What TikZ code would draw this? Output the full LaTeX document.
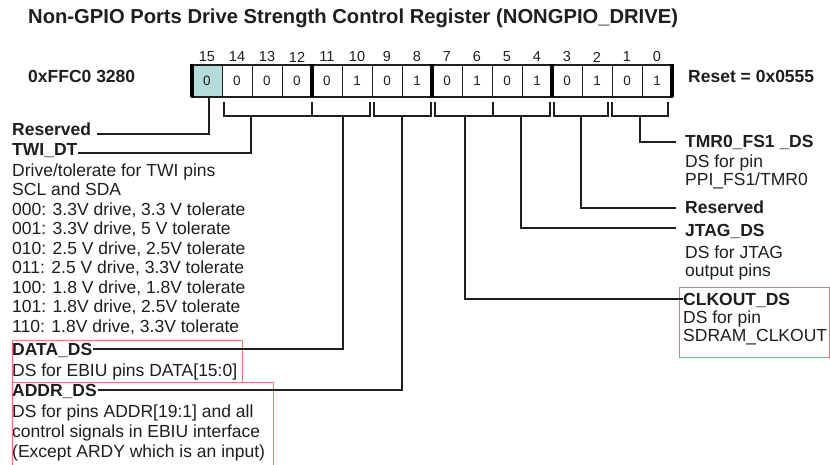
\documentclass[tikz,border=0pt]{standalone}
\usepackage{fontspec}
\setmainfont{Liberation Sans}
\definecolor{tealfill}{HTML}{B4DCDB}
\definecolor{boxred}{HTML}{E57A7A}
\definecolor{ink}{HTML}{1E1E1E}
\begin{document}
\begin{tikzpicture}[x=1pt,y=-1pt,
  lbl/.style={anchor=west,inner sep=0pt,text height=12.5pt,text depth=0pt,text=ink,font=\fontsize{17.5}{19.5}\selectfont},
  blbl/.style={lbl,font=\bfseries\fontsize{17.5}{19.5}\selectfont},
  cell/.style={draw=ink,line width=0.8pt,minimum width=30pt,minimum height=32pt,inner sep=0pt,text=ink,font=\fontsize{13.5}{14}\selectfont},
  bitno/.style={inner sep=0pt,text=ink,font=\fontsize{14.5}{15}\selectfont},
  conn/.style={line width=1.1pt,draw=ink},
  brk/.style={line width=1.1pt,draw=ink},
  redbox/.style={draw=boxred,line width=0.9pt},
  thickbar/.style={line width=3.5pt,draw=black}
]
\useasboundingbox[fill=white] (0,0) rectangle (830,465);

% title
\node[anchor=west,inner sep=0pt,text height=14.5pt,text depth=0pt,text=ink,
      font=\bfseries\fontsize{20.2}{22}\selectfont] (title) at (28,16)
      {Non-GPIO Ports Drive Strength Control Register (NONGPIO\_DRIVE)};

% address and reset
\node[blbl] (addrlbl) at (28,76) {0xFFC0 3280};
\node[blbl] (reset) at (688,76) {Reset = 0x0555};

% register cells
\foreach \b/\v in {15/0,14/0,13/0,12/0,11/0,10/1,9/0,8/1,7/0,6/1,5/0,4/1,3/0,2/1,1/0,0/1}{
  \node[cell] (c\b) at ({192+30*(15-\b)+15},81) {\v};
  \node[bitno] (n\b) at ({192+30*(15-\b)+15},57) {\b};
}
\fill[tealfill] ([shift={(0.4pt,-0.4pt)}]c15.north west) rectangle ([shift={(-0.4pt,0.4pt)}]c15.south east);
\node[cell,draw=none] at (c15.center) {0};
\draw[ink,line width=1.3pt] (192,65) rectangle (672,97);
\foreach \xx in {192,312,432,552,672}{
  \draw[thickbar] (\xx,64.5) -- (\xx,97.5);
}

% brackets
\draw[brk] (224,102) |- (312,116) -- (312,102);
\draw[brk] (312,116) -| (370,102);
\draw[brk] (374,102) |- (431,116) -- (431,102);
\draw[brk] (435,102) |- (493,116) -- (493,102);
\draw[brk] (493,116) -| (550,102);
\draw[brk] (554,102) |- (608,116) -- (608,102);
\draw[brk] (612,102) |- (668,116) -- (668,102);

\coordinate (dTWI) at (251,116);
\coordinate (dDATA) at (343,116);
\coordinate (dADDR) at (402,116);
\coordinate (dCLK) at (465,116);
\coordinate (dJTAG) at (521,116);
\coordinate (dRES) at (581,116);
\coordinate (dTMR) at (640,116);

% left labels
\node[blbl] (resL) at (12,129) {Reserved};
\node[blbl] (twi) at (12,149) {TWI\_DT};
\foreach \t [count=\i] in {{Drive/tolerate for TWI pins},{SCL and SDA},
  {000: 3.3V drive, 3.3 V tolerate},{001: 3.3V drive, 5 V tolerate},
  {010: 2.5 V drive, 2.5V tolerate},{011: 2.5 V drive, 3.3V tolerate},
  {100: 1.8 V drive, 1.8V tolerate},{101: 1.8V drive, 2.5V tolerate},
  {110: 1.8V drive, 3.3V tolerate}}{
  \node[lbl] (twid\i) at (12,{170+19.5*(\i-1)}) {\t};
}
\node[blbl] (data) at (12,349) {DATA\_DS};
\node[lbl] (datad) at (12,370) {DS for EBIU pins DATA[15:0]};
\node[blbl] (addr) at (12,390) {ADDR\_DS};
\node[lbl] (addrd1) at (12,411.7) {DS for pins ADDR[19:1] and all};
\node[lbl] (addrd2) at (12,431.7) {control signals in EBIU interface};
\node[lbl] (addrd3) at (12,451.7) {(Except ARDY which is an input)};

% right labels
\node[blbl] (tmr) at (685,141) {TMR0\_FS1 \_DS};
\node[lbl] (tmrd1) at (685,161) {DS for pin};
\node[lbl] (tmrd2) at (685,179.5) {PPI\_FS1/TMR0};
\node[blbl] (resR) at (685,207) {Reserved};
\node[blbl] (jtag) at (685,230) {JTAG\_DS};
\node[lbl] (jtagd1) at (685,252) {DS for JTAG};
\node[lbl] (jtagd2) at (685,270.5) {output pins};
\node[blbl] (clk) at (683,299) {CLKOUT\_DS};
\node[lbl] (clkd1) at (683,317) {DS for pin};
\node[lbl] (clkd2) at (683,335.5) {SDRAM\_CLKOUT};

% red boxes
\draw[redbox] (12,340) rectangle (242,382);
\draw[redbox] (12,467) -- (12,382) -- (273,382) -- (273,467);
\draw[redbox] (679,287) rectangle (829,357);

% connectors
\draw[conn] ([xshift=2pt]c15.south) |- ([xshift=6pt,yshift=-5pt]resL.east);
\draw[conn] (dTWI) |- ([yshift=-4pt]twi.east);
\draw[conn] (dDATA) |- ([xshift=1pt]data.east);
\draw[conn] (dADDR) |- ([xshift=1pt]addr.east);
\draw[conn] (dCLK) |- (clk.west);
\draw[conn] (dJTAG) |- ([xshift=-9pt,yshift=2pt]jtag.west);
\draw[conn] (dRES) |- ([xshift=-9pt,yshift=-1pt]resR.west);
\draw[conn] (dTMR) |- ([xshift=-9pt,yshift=-1pt]tmr.west);
\end{tikzpicture}
\end{document}
